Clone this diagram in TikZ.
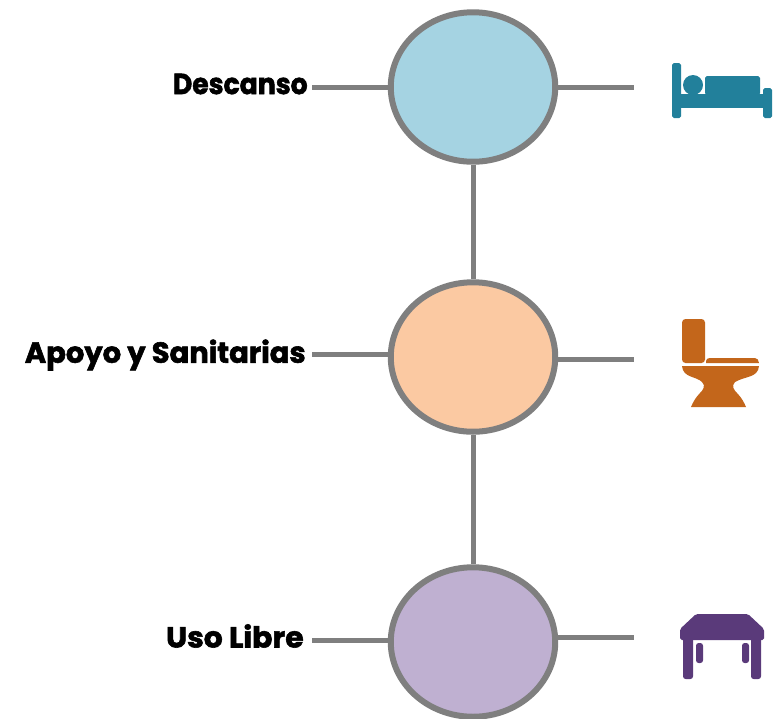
\documentclass[tikz,border=0pt]{standalone}
\usepackage{fontspec}
\setmainfont{Poppins}[BoldFeatures={FakeBold=2}]
\usetikzlibrary{shapes.geometric}
\definecolor{zonegray}{HTML}{7F7F7F}
\definecolor{restfill}{HTML}{A5D3E2}
\definecolor{wcfill}{HTML}{FBC9A2}
\definecolor{freefill}{HTML}{BFB0D1}
\definecolor{bedcolor}{HTML}{22809B}
\definecolor{wccolor}{HTML}{C3661B}
\definecolor{tablecolor}{HTML}{5A3A7A}
\tikzset{
	zone/.style={ellipse, draw=zonegray, line width=0.12cm, minimum width=3.29cm, minimum height=2.99cm, inner sep=0pt},
	link/.style={draw=zonegray, line width=0.1cm},
	zonelabel/.style={anchor=east, inner sep=0pt, font=\fontsize{16.5}{18}\selectfont\bfseries}
}
\begin{document}
\begin{tikzpicture}[x=0.02cm, y=-0.02cm]
			%%%%% START %%%%%
			
			\useasboundingbox (0, 0) rectangle (773, 718);
			
			\node[zone, fill=restfill] (descanso) at (473, 87) {};
			\node[zone, fill=wcfill] (apoyo) at (473, 357) {};
			\node[zone, fill=freefill] (libre) at (473, 642) {};
			
			\node[zonelabel, xscale=0.92] (descansotext) at (308, 84) {Descanso};
			\node[zonelabel] (apoyotext) at (306, 355) {Apoyo y Sanitarias};
			\node[zonelabel, xscale=1.03] (libretext) at (304, 636) {Uso Libre};
			
			\coordinate (descansoleft) at (312, 87);
			\coordinate (apoyoleft) at (312, 354);
			\coordinate (libreleft) at (312, 640);
			\coordinate (descansoright) at (634, 87);
			\coordinate (apoyoright) at (634, 359);
			\coordinate (libreright) at (634, 637);
			
			\draw[link] (descanso) -- (apoyo);
			\draw[link] (apoyo) -- (libre);
			\draw[link] (descansoleft) -- (descansoleft -| descanso.west);
			\draw[link] (apoyoleft) -- (apoyoleft -| apoyo.west);
			\draw[link] (libreleft) -- (libreleft -| libre.west);
			\draw[link] (descansoright -| descanso.east) -- (descansoright);
			\draw[link] (apoyoright -| apoyo.east) -- (apoyoright);
			\draw[link] (libreright -| libre.east) -- (libreright);
			
			% bed
			\fill[bedcolor, rounded corners=1pt] (672, 63) rectangle (681, 118);
			\fill[bedcolor, rounded corners=1pt] (763, 88) rectangle (772, 118);
			\fill[bedcolor] (680, 94) rectangle (764, 108);
			\fill[bedcolor] (693, 85) circle (10);
			\fill[bedcolor, rounded corners=1pt] (705, 76) rectangle (760, 95);
			
			% toilet
			\fill[wccolor, rounded corners=2pt] (682, 319) rectangle (705, 363);
			\fill[wccolor] (706, 363) -- (706, 361) .. controls (706, 359) and (708, 358) .. (710, 358) -- (755, 358) .. controls (757, 358) and (759, 360) .. (759, 363) -- cycle;
			\fill[wccolor] (682, 366) -- (759, 366) .. controls (758, 378) and (745, 376) .. (735, 382)
				.. controls (731, 386) and (734, 390) .. (737, 393) .. controls (741, 397) and (744, 402) .. (746, 407)
				-- (691, 407) .. controls (693, 402) and (696, 397) .. (700, 393) .. controls (703, 390) and (706, 386) .. (702, 382)
				.. controls (696, 376) and (683, 378) .. (682, 366) -- cycle;
			
			% table
			\fill[tablecolor, rounded corners=1pt] (696, 614) -- (748, 614) -- (764, 629) -- (764, 640) -- (680, 640) -- (680, 629) -- cycle;
			\fill[tablecolor, rounded corners=1.5pt] (683, 635) rectangle (693, 679);
			\fill[tablecolor, rounded corners=1.5pt] (751, 635) rectangle (761, 679);
			\fill[tablecolor, rounded corners=1.5pt] (696, 643) rectangle (703, 663);
			\fill[tablecolor, rounded corners=1.5pt] (742, 643) rectangle (749, 663);
			
			%%%%% END %%%%%
		\end{tikzpicture}
\end{document}
